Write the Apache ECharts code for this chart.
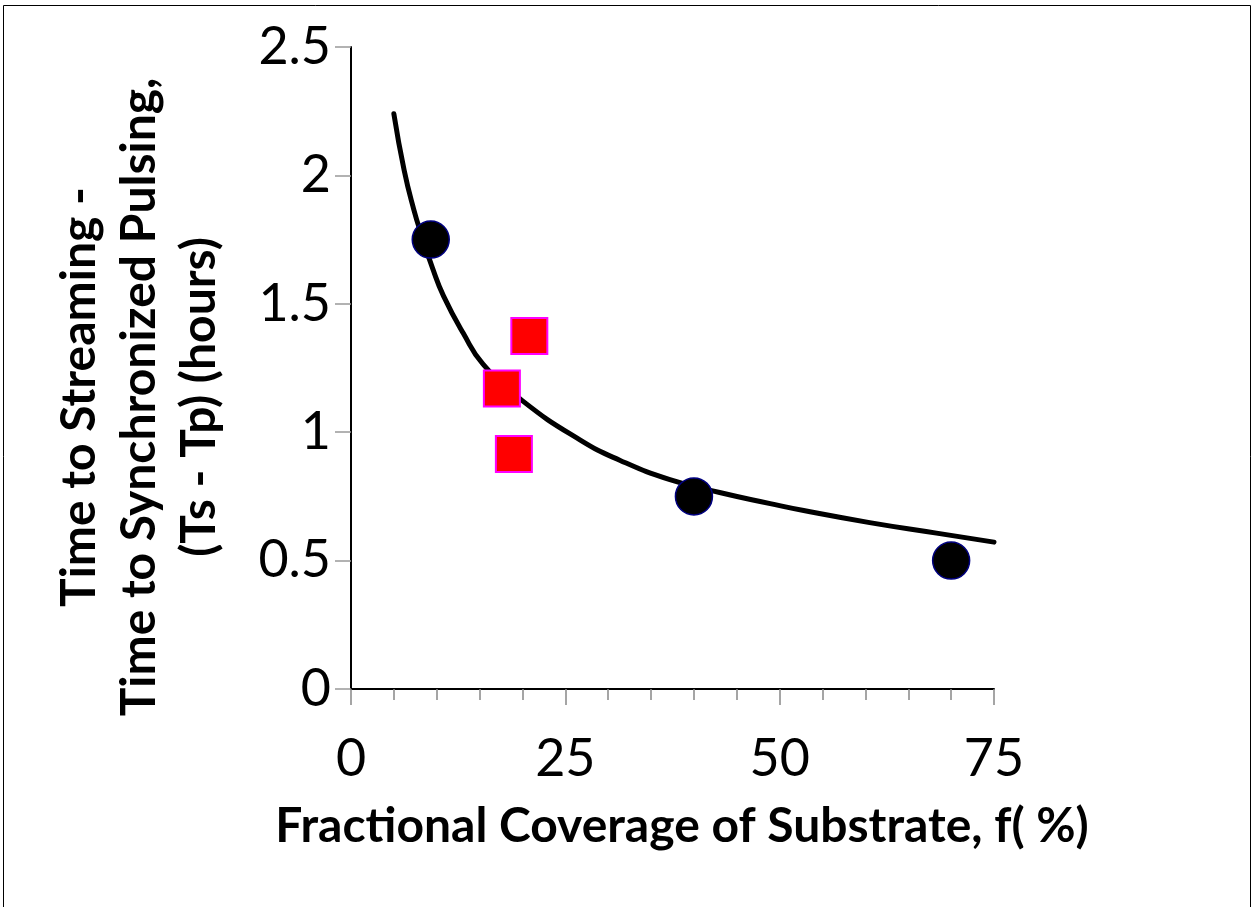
<!DOCTYPE html>
<html>
<head>
<meta charset="utf-8">
<script src="https://cdn.jsdelivr.net/npm/echarts@6/dist/echarts.min.js"></script>
<style>
html,body{margin:0;padding:0;background:#fff;}
#chart{width:1256px;height:907px;}
</style>
</head>
<body>
<div id="chart"></div>
<script>
// Black circles (main series)
const circleX = [9.3, 40, 70];
const circleY = [1.75, 0.75, 0.5];
// Red squares
const squareX = [17.6, 20.8, 19.0];
const squareY = [1.17, 1.375, 0.915];
// Trend curve
const curveX = [5.0, 6.2, 7.3, 8.3, 9.5, 10.8, 13.1, 15.4, 19.9, 26.7, 31.4, 37.2, 43.0, 48.9, 52.8, 60.5, 68.3, 75.0];
const curveY = [2.24, 2.02, 1.87, 1.76, 1.64, 1.53, 1.385, 1.265, 1.125, 0.97, 0.89, 0.815, 0.765, 0.722, 0.695, 0.648, 0.607, 0.572];
const xTicks = [0, 25, 50, 75];
const yTicks = [0, 0.5, 1, 1.5, 2, 2.5];
const xTitle = 'Fractional Coverage of Substrate, f( %)';
const yTitleLines = ['Time to Streaming -', 'Time to Synchronized Pulsing,', '(Ts - Tp) (hours)'];

const zip = (a, b) => a.map((v, i) => [v, b[i]]);
const FONT = 'Lato, "Liberation Sans", sans-serif';

const chart = echarts.init(document.getElementById('chart'), null, {renderer: 'canvas'});
chart.setOption({
  backgroundColor: '#fff',
  animation: false,
  grid: {left: 351, right: 262, top: 47, bottom: 218, containLabel: false},
  xAxis: {
    type: 'value', min: xTicks[0], max: xTicks[xTicks.length - 1], interval: 25,
    axisLine: {show: true, onZero: false, lineStyle: {color: '#000', width: 2}},
    axisTick: {show: true, inside: false, length: 16, lineStyle: {color: '#888', width: 1.5}},
    minorTick: {show: true, splitNumber: 5, length: 11, lineStyle: {color: '#888', width: 1.5}},
    splitLine: {show: false},
    axisLabel: {fontFamily: FONT, fontSize: 52, color: '#000', margin: 44}
  },
  yAxis: {
    type: 'value', min: yTicks[0], max: yTicks[yTicks.length - 1], interval: 0.5,
    axisLine: {show: true, onZero: false, lineStyle: {color: '#000', width: 2}},
    axisTick: {show: true, inside: false, length: 16, lineStyle: {color: '#999', width: 1.5}},
    splitLine: {show: false},
    axisLabel: {fontFamily: FONT, fontSize: 52, color: '#000', margin: 20,
      formatter: v => String(v)}
  },
  series: [
    {
      type: 'line', data: zip(curveX, curveY), smooth: 0.5, showSymbol: false,
      lineStyle: {color: '#000', width: 5, cap: 'round', join: 'round'}, z: 2
    },
    {
      type: 'scatter', data: zip(circleX, circleY), symbol: 'circle', symbolSize: 37,
      itemStyle: {color: '#000', opacity: 1, borderColor: '#000080', borderWidth: 1.5}, z: 3
    },
    {
      type: 'scatter', data: zip(squareX, squareY), symbol: 'rect', symbolSize: 36,
      itemStyle: {color: '#ff0000', opacity: 1, borderColor: '#ff00ff', borderWidth: 2}, z: 4
    }
  ],
  graphic: [
    {type: 'rect', shape: {x: 3.5, y: 5.5, width: 1247, height: 1000},
     style: {fill: null, stroke: '#000', lineWidth: 1}, silent: true, z: -1},
    {type: 'text', x: 682, y: 827,
     style: {text: xTitle, font: 'bold 48px ' + FONT, fill: '#000', textAlign: 'center', textVerticalAlign: 'middle'}},
    {type: 'text', x: 140, y: 397, rotation: Math.PI / 2,
     style: {text: yTitleLines.join('\n'), font: 'bold 48px ' + FONT, lineHeight: 60, fill: '#000', textAlign: 'center', textVerticalAlign: 'middle'}}
  ]
});
</script>
</body>
</html>
